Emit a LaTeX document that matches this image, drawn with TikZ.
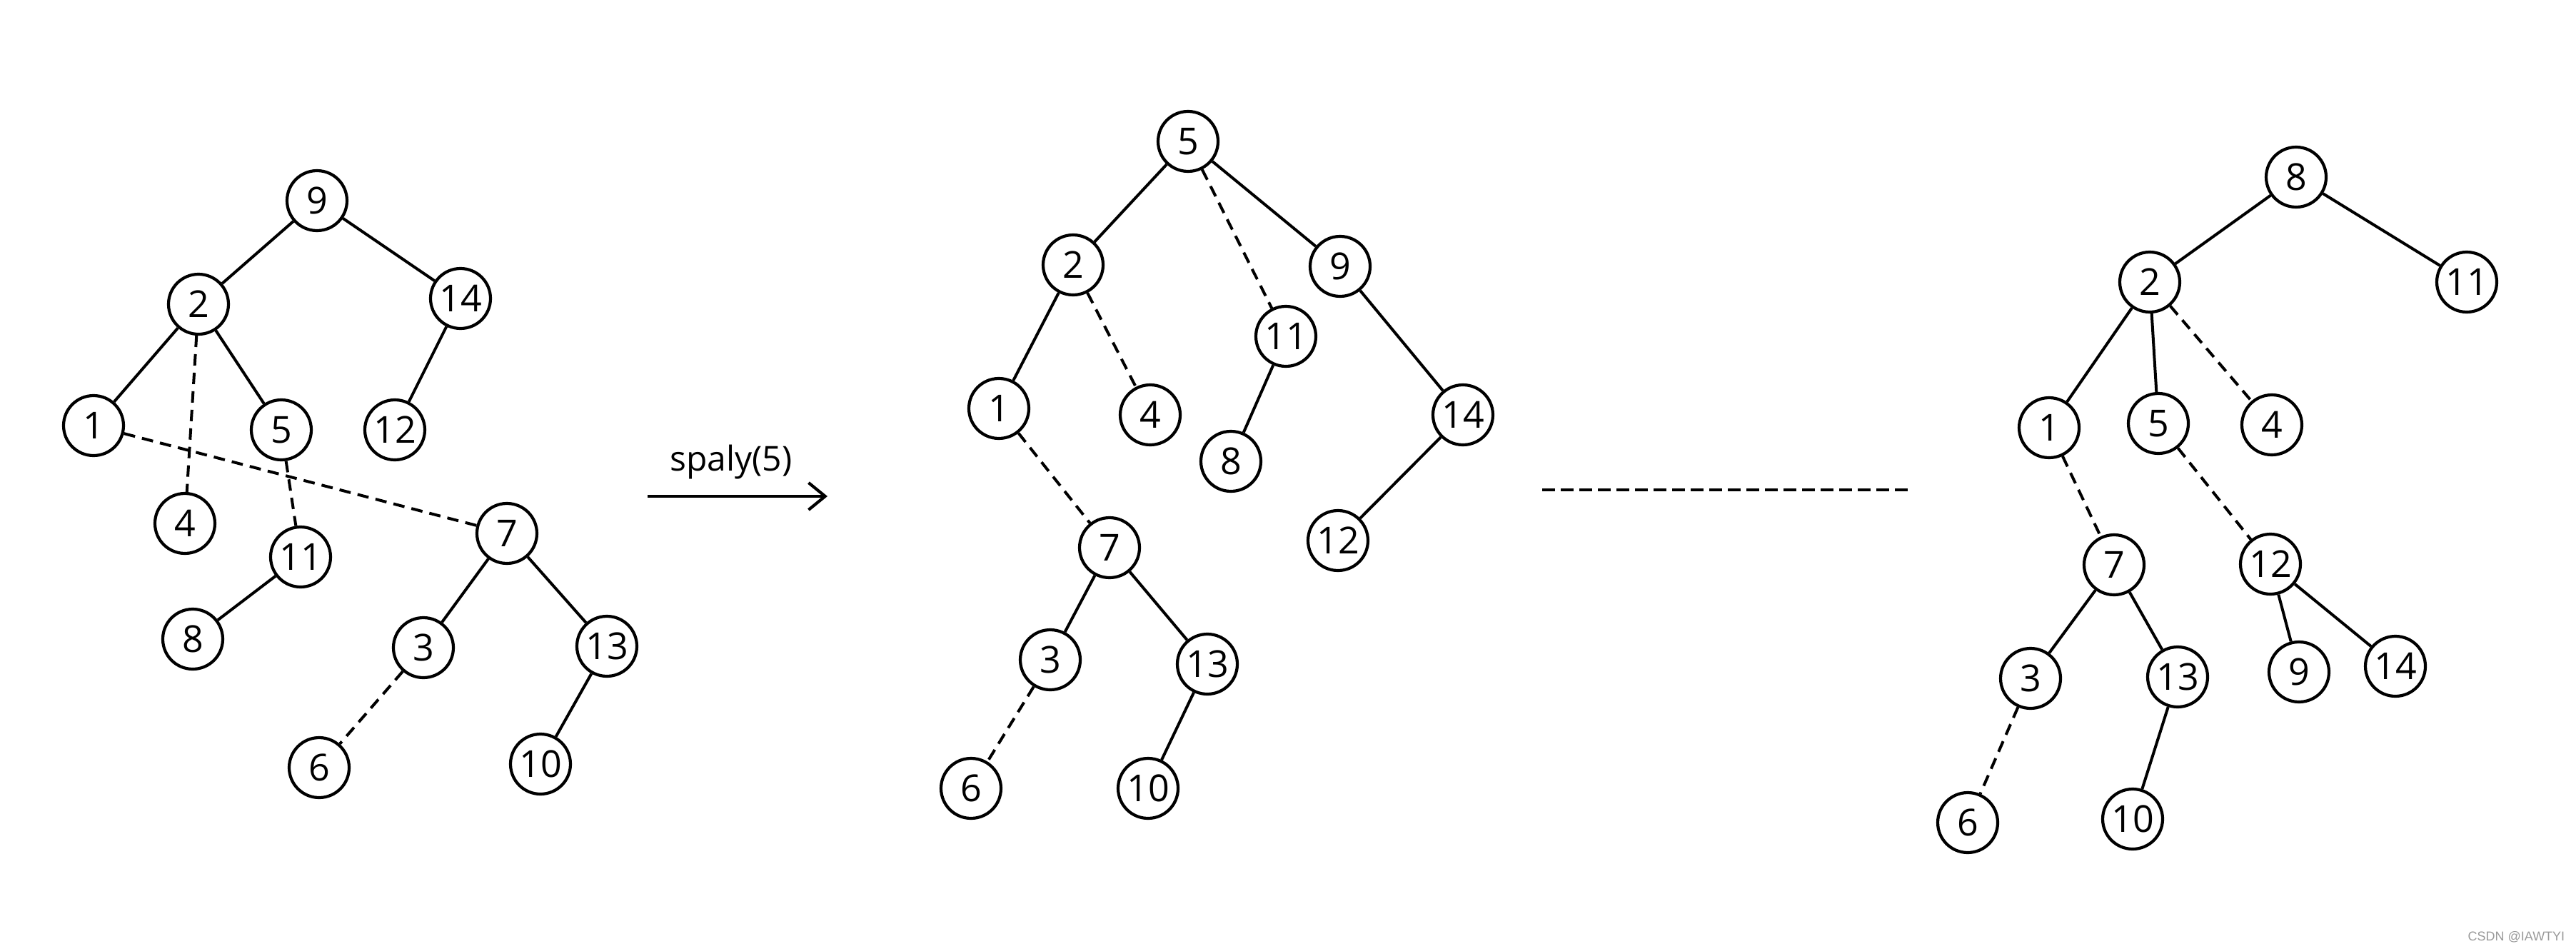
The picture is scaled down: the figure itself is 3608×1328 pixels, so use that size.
\documentclass[tikz,border=0pt]{standalone}
\usepackage{fontspec}
\setmainfont{Open Sans}
\newfontfamily\wmfont{Liberation Sans}
\usetikzlibrary{arrows.meta}
\begin{document}
\begin{tikzpicture}[x=0.25pt,y=-0.25pt,
  tn/.style={circle,draw,line width=1.05pt,minimum size=21pt,inner sep=0pt,
             font=\fontsize{13}{15}\selectfont},
  se/.style={line width=1pt},
  de/.style={line width=1pt,dash pattern=on 4pt off 2.5pt}]
\useasboundingbox (0,0) rectangle (3608,1328);
% ---------- tree 1 ----------
\node[tn] (a9)  at (444,281)  {9};
\node[tn] (a2)  at (278,426)  {2};
\node[tn] (a14) at (645,418)  {14};
\node[tn] (a1)  at (131,596)  {1};
\node[tn] (a5)  at (394,602)  {5};
\node[tn] (a12) at (553,602)  {12};
\node[tn] (a4)  at (259,733)  {4};
\node[tn] (a11) at (421,780)  {11};
\node[tn] (a7)  at (710,747)  {7};
\node[tn] (a8)  at (270,895)  {8};
\node[tn] (a3)  at (593,907)  {3};
\node[tn] (a13) at (850,905)  {13};
\node[tn] (a6)  at (447,1075) {6};
\node[tn] (a10) at (757,1070) {10};
\draw[se] (a9) -- (a2);
\draw[se] (a9) -- (a14);
\draw[se] (a2) -- (a1);
\draw[se] (a2) -- (a5);
\draw[de] (a2) -- (a4);
\draw[se] (a14) -- (a12);
\draw[de] (a1) -- (a7);
\draw[de] (a5) -- (a11);
\draw[se] (a11) -- (a8);
\draw[se] (a7) -- (a3);
\draw[se] (a7) -- (a13);
\draw[de] (a3) -- (a6);
\draw[se] (a13) -- (a10);
% ---------- arrow ----------
\coordinate (arS) at (907,695);
\coordinate (arE) at (1159,695);
\draw[line width=1.05pt,-{Straight Barb[length=5.8pt,width=9.5pt,line width=1.05pt]}] (arS) -- (arE);
\node[font=\fontsize{12}{14}\selectfont] (lab) at (1024,647) {spaly(5)};
% ---------- tree 2 ----------
\node[tn] (b5)  at (1664,198)  {5};
\node[tn] (b2)  at (1503,371)  {2};
\node[tn] (b9)  at (1877,373)  {9};
\node[tn] (b11) at (1801,471)  {11};
\node[tn] (b1)  at (1399,572)  {1};
\node[tn] (b4)  at (1611,581)  {4};
\node[tn] (b8)  at (1724,646)  {8};
\node[tn] (b14) at (2049,581)  {14};
\node[tn] (b12) at (1874,757)  {12};
\node[tn] (b7)  at (1554,767)  {7};
\node[tn] (b3)  at (1471,924)  {3};
\node[tn] (b13) at (1691,930)  {13};
\node[tn] (b6)  at (1360,1104) {6};
\node[tn] (b10) at (1608,1104) {10};
\draw[se] (b5) -- (b2);
\draw[de] (b5) -- (b11);
\draw[se] (b5) -- (b9);
\draw[se] (b2) -- (b1);
\draw[de] (b2) -- (b4);
\draw[se] (b11) -- (b8);
\draw[se] (b9) -- (b14);
\draw[se] (b14) -- (b12);
\draw[de] (b1) -- (b7);
\draw[se] (b7) -- (b3);
\draw[se] (b7) -- (b13);
\draw[de] (b3) -- (b6);
\draw[se] (b13) -- (b10);
% ---------- separator ----------
\coordinate (dS) at (2160,686);
\coordinate (dE) at (2680,686);
\draw[line width=1.05pt,dash pattern=on 4.5pt off 2pt] (dS) -- (dE);
% ---------- tree 3 ----------
\node[tn] (c8)  at (3216,248)  {8};
\node[tn] (c2)  at (3011,395)  {2};
\node[tn] (c11) at (3455,395)  {11};
\node[tn] (c1)  at (2870,599)  {1};
\node[tn] (c5)  at (3023,593)  {5};
\node[tn] (c4)  at (3182,595)  {4};
\node[tn] (c7)  at (2961,791)  {7};
\node[tn] (c12) at (3180,790)  {12};
\node[tn] (c3)  at (2844,950)  {3};
\node[tn] (c13) at (3050,948)  {13};
\node[tn] (c9)  at (3220,941)  {9};
\node[tn] (c14) at (3355,933)  {14};
\node[tn] (c6)  at (2756,1152) {6};
\node[tn] (c10) at (2987,1147) {10};
\draw[se] (c8) -- (c2);
\draw[se] (c8) -- (c11);
\draw[se] (c2) -- (c1);
\draw[se] (c2) -- (c5);
\draw[de] (c2) -- (c4);
\draw[de] (c1) -- (c7);
\draw[de] (c5) -- (c12);
\draw[se] (c7) -- (c3);
\draw[se] (c7) -- (c13);
\draw[se] (c12) -- (c9);
\draw[se] (c12) -- (c14);
\draw[de] (c3) -- (c6);
\draw[se] (c13) -- (c10);
% ---------- watermark ----------
\node[anchor=east,inner sep=0pt,text=black!40,font=\wmfont\fontsize{4.5}{5}\selectfont] (wm) at (3593,1312) {CSDN @IAWTYI};
\end{tikzpicture}
\end{document}
